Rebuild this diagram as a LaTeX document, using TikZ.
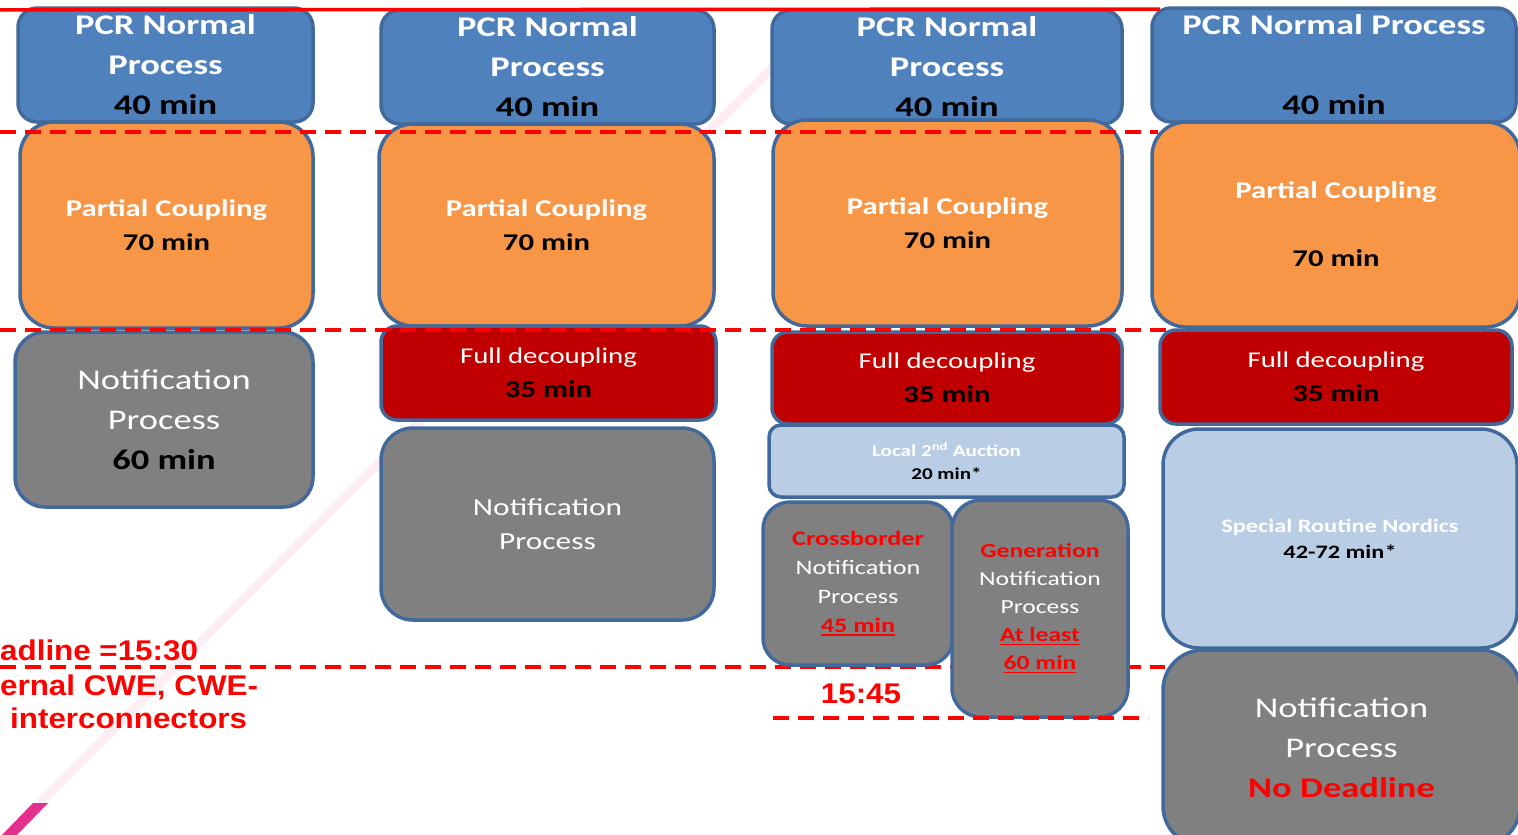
\documentclass[tikz,border=0pt]{standalone}
\usepackage{fontspec}
\setmainfont{Carlito}[FakeStretch=1.28]
\newfontfamily\arialbold{Liberation Sans}[FakeStretch=1.1]

\definecolor{pcrblue}{RGB}{79,129,189}
\definecolor{couplingorange}{RGB}{247,150,70}
\definecolor{decouplingred}{RGB}{192,0,0}
\definecolor{notifgray}{RGB}{128,128,128}
\definecolor{auctionblue}{RGB}{185,205,229}
\definecolor{boxline}{RGB}{65,105,155}
\definecolor{alertred}{RGB}{255,0,0}
\definecolor{pinkbar}{RGB}{226,50,140}
\definecolor{faintpink}{RGB}{253,238,243}

\newcommand{\ulmin}[1]{\leavevmode\setbox0=\hbox{#1}\rlap{\rule[-3.5pt]{\wd0}{1.6pt}}\box0}

\begin{document}
\begin{tikzpicture}[x=1pt,y=-1pt,
            box/.style={draw=boxline,line width=3.5pt,align=center,inner sep=0pt,text=white},
            pcr/.style={box,fill=pcrblue,rounded corners=19pt,font=\bfseries\fontsize{28.5}{40}\selectfont},
            coupling/.style={box,fill=couplingorange,rounded corners=34pt,font=\bfseries\fontsize{24}{34}\selectfont},
            decoupling/.style={box,fill=decouplingred,rounded corners=16pt,font=\fontsize{22.5}{34}\selectfont},
            notif/.style={box,fill=notifgray,rounded corners=30pt,font=\fontsize{28.5}{40}\selectfont},
            auction/.style={box,fill=auctionblue,font=\bfseries},
            cutline/.style={alertred,line width=3.5pt,dash pattern=on 16pt off 9pt},
            redtext/.style={text=alertred,font=\arialbold\bfseries\fontsize{28.5}{34}\selectfont,inner sep=0pt}]
            \useasboundingbox (0,0) rectangle (1518,835);
            \fill [white] (0,0) rectangle (1518,835);

            \draw [faintpink, line width=9pt] (40,803) -- (790,50);
            \fill [pinkbar] (2,835) -- (33,803) -- (48,803) -- (17,835) -- cycle;
            \draw [cutline] (0,667) -- (1165,667);

            \node [pcr, minimum width=295, minimum height=114] (pcr1) at (165.5,65) {PCR Normal\\Process\\\textcolor{black}{40 min}};
            \node [coupling, minimum width=293, minimum height=206] (coup1) at (166.5,225) {Partial Coupling\\\textcolor{black}{70 min}};
            \node [notif, minimum width=298, minimum height=175] (notif1) at (164,419.5) {Notification\\Process\\\textbf{\textcolor{black}{60 min}}};

            \node [pcr, minimum width=333, minimum height=114] (pcr2) at (547.5,67) {PCR Normal\\Process\\\textcolor{black}{40 min}};
            \node [coupling, minimum width=335, minimum height=202] (coup2) at (546.5,225) {Partial Coupling\\\textcolor{black}{70 min}};
            \node [decoupling, minimum width=335, minimum height=94] (decoup2) at (548.5,373) {Full decoupling\\\textbf{\fontsize{24}{34}\selectfont\textcolor{black}{35 min}}};
            \node [notif, rounded corners=32pt, minimum width=333, minimum height=192, font=\fontsize{24.5}{34}\selectfont] (notif2) at (547.5,524) {Notification\\Process};

            \node [pcr, minimum width=350, minimum height=114] (pcr3) at (947,67) {PCR Normal\\Process\\\textcolor{black}{40 min}};
            \node [coupling, minimum width=349, minimum height=206] (coup3) at (947.5,223) {Partial Coupling\\\textcolor{black}{70 min}};
            \node [decoupling, minimum width=350, minimum height=92] (decoup3) at (947,378) {Full decoupling\\\textbf{\fontsize{24}{34}\selectfont\textcolor{black}{35 min}}};
            \node [auction, rounded corners=12pt, minimum width=355, minimum height=72, font=\bfseries\fontsize{16.5}{23}\selectfont] (auction3) at (946.5,461) {Local 2\textsuperscript{nd} Auction\\\textcolor{black}{20 min*}};
            \node [notif, rounded corners=27pt, minimum width=190, minimum height=163, font=\fontsize{20.5}{29}\selectfont] (cross3) at (858,583.5) {\textbf{\textcolor{alertred}{Crossborder}}\\Notification\\Process\\\textbf{\textcolor{alertred}{\ulmin{45 min}}}};
            \node [notif, rounded corners=29pt, minimum width=176, minimum height=217, font=\fontsize{20}{28}\selectfont] (gen3) at (1040,608.5) {\textbf{\textcolor{alertred}{Generation}}\\Notification\\Process\\\textbf{\textcolor{alertred}{\ulmin{At least}}}\\\textbf{\textcolor{alertred}{\ulmin{60 min}}}};

            \node [pcr, minimum width=364, minimum height=114] (pcr4) at (1334,65) {PCR Normal Process\\[40pt]\textcolor{black}{40 min}};
            \node [coupling, minimum width=368, minimum height=205] (coup4) at (1336,224.5) {Partial Coupling\\[34pt]\textcolor{black}{70 min}};
            \node [decoupling, minimum width=352, minimum height=94] (decoup4) at (1336,377) {Full decoupling\\\textbf{\fontsize{24}{34}\selectfont\textcolor{black}{35 min}}};
            \node [auction, rounded corners=36pt, minimum width=354, minimum height=219, font=\bfseries\fontsize{19}{26}\selectfont] (nordic4) at (1340,538.5) {Special Routine Nordics\\\textcolor{black}{42-72 min*}};
            \node [notif, rounded corners=40pt, minimum width=357, minimum height=196] (notif4) at (1341.5,748) {Notification\\Process\\\textbf{\textcolor{alertred}{No Deadline}}};

            \draw [alertred, line width=3.5pt] (0,10) -- (1160,9);
            \draw [cutline] (0,132) -- (1158,132);
            \draw [cutline] (0,330) -- (1170,330);
            \draw [cutline] (773,718) -- (1148,718);

            \node [redtext, anchor=base west] (deadline1) at (0,660) {adline =15:30};
            \node [redtext, anchor=base west] (deadline2) at (0,695) {ernal CWE, CWE-};
            \node [redtext, anchor=base west] (deadline3) at (10,728) {interconnectors};
            \node [redtext, anchor=base] (time3) at (861,703) {15:45};
        \end{tikzpicture}
\end{document}
